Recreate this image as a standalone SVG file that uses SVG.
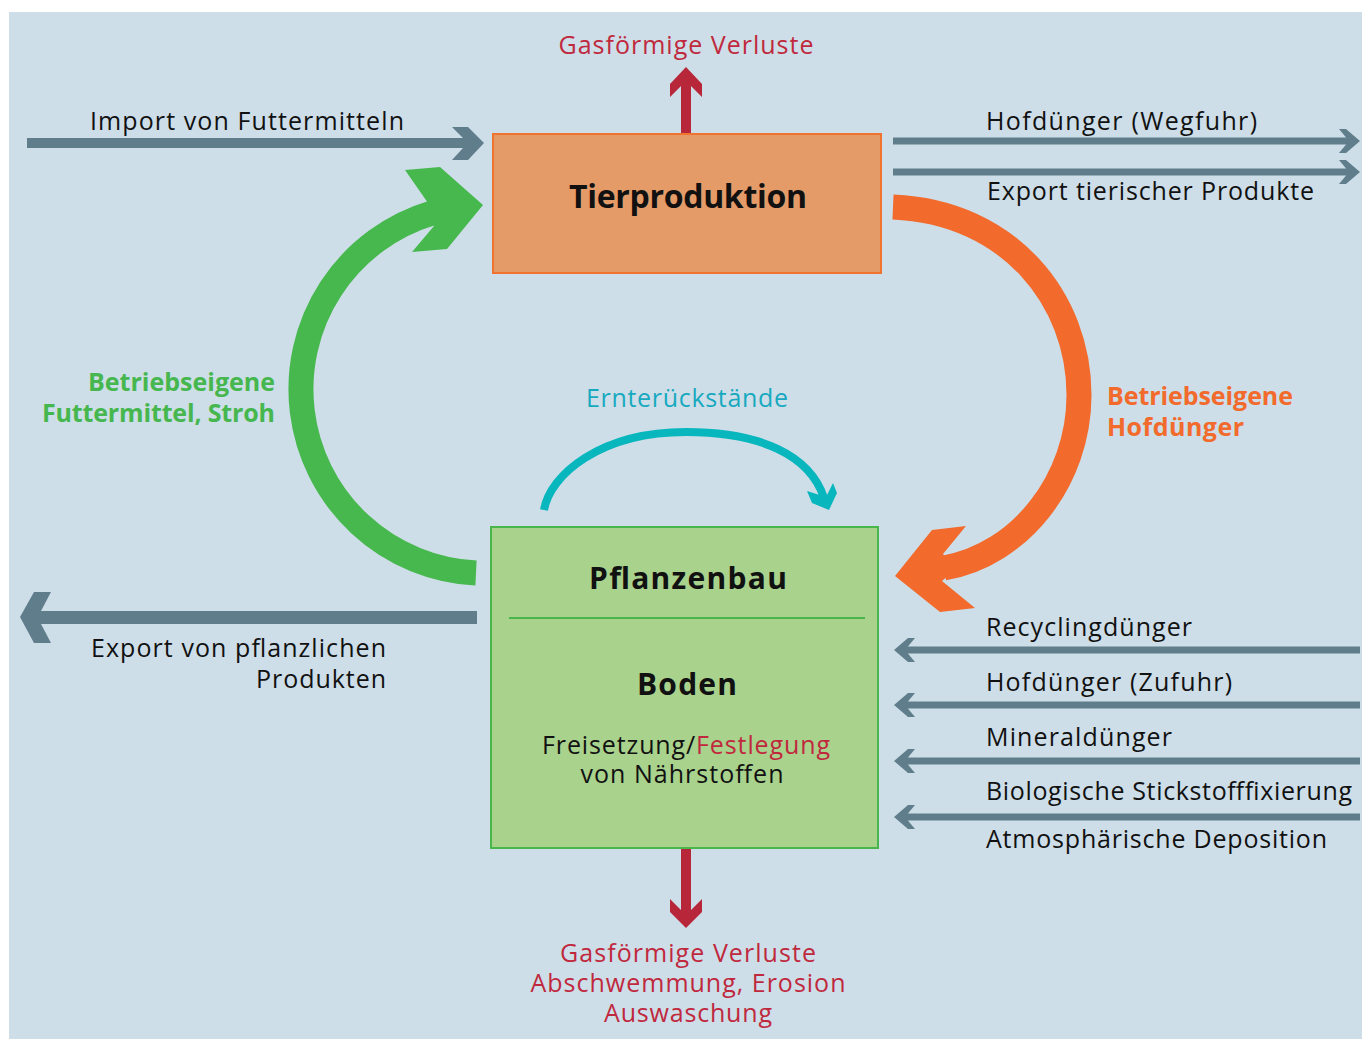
<svg xmlns="http://www.w3.org/2000/svg" width="1362" height="1039" viewBox="0 0 1362 1039">
<style>
.t{font-family:"Open Sans","Noto Sans","Liberation Sans",sans-serif;font-size:25px;fill:#111}
.b{font-weight:bold}
.red{fill:#c0293d}
.grey{fill:#607d8b}
</style>
<defs>
<path id="hr" d="M-21,-12 L-14,-12 L0,0 L-14,12 L-21,12 L-11,0 Z" fill="#607d8b"/>
</defs>
<rect x="9" y="12" width="1353" height="1027" fill="#cddee8"/>

<g id="connectors">
  <!-- import -->
  <polygon class="grey" points="27,138 463,138 452,127 468,127 484,143 468,160 452,160 463,148 27,148"/>
  <!-- outgoing right -->
  <rect class="grey" x="893" y="137.5" width="460" height="7"/>
  <use href="#hr" x="1360" y="141"/>
  <rect class="grey" x="893" y="168.5" width="460" height="7"/>
  <use href="#hr" x="1360" y="172"/>
  <!-- incoming right -->
  <rect class="grey" x="900" y="646.5" width="460" height="7"/>
  <use href="#hr" transform="translate(894,650) scale(-1,1)"/>
  <rect class="grey" x="900" y="701.5" width="460" height="7"/>
  <use href="#hr" transform="translate(894,705) scale(-1,1)"/>
  <rect class="grey" x="900" y="757.5" width="460" height="7"/>
  <use href="#hr" transform="translate(894,761) scale(-1,1)"/>
  <rect class="grey" x="900" y="813.5" width="460" height="7"/>
  <use href="#hr" transform="translate(894,817) scale(-1,1)"/>
  <!-- export left -->
  <polygon class="grey" points="20,617 34,592 51,592 41,611 477,611 477,624 41,624 51,643 34,643"/>
  <!-- red arrows -->
  <polygon fill="#b8263a" points="686,67 702,84 702,97 691,86 691,134 681,134 681,86 670,97 670,84"/>
  <polygon fill="#b8263a" points="681,848 691,848 691,910 702,899 702,912 686,928 670,912 670,899 681,910"/>
  <!-- green -->
  <path d="M476,573 A184,184 0 0 1 432,213" fill="none" stroke="#47b84e" stroke-width="25"/>
  <polygon fill="#47b84e" points="483,205 447,249 412,252 434,226 428,203 405,170 440,167"/>
  <!-- orange -->
  <path d="M893,207 C1010,212 1079,300 1079,395 C1079,480 1020,555 944,568" fill="none" stroke="#f26a2c" stroke-width="25"/>
  <polygon fill="#f26a2c" points="895,576 932,530 966,526 943,554 955,570 942,581 975,608 940,612"/>
  <!-- cyan -->
  <path d="M544,510 C550,475 600,432 686,432 C760,432 810,455 824,498" fill="none" stroke="#08b6bd" stroke-width="8"/>
  <polygon fill="#08b6bd" points="807,491 812,503 829,510 837,493 833,483 826,497"/>
</g>

<g id="tierproduktion">
  <rect x="493" y="134" width="388" height="139" fill="#e59b68" stroke="#f07330" stroke-width="2"/>
  <text class="t b" x="688" y="208" text-anchor="middle" style="font-size:32px" textLength="238">Tierproduktion</text>
</g>

<g id="pflanzenbau">
  <rect x="491" y="527" width="387" height="321" fill="#a9d28d" stroke="#49b64c" stroke-width="2"/>
  <line x1="509" y1="618" x2="865" y2="618" stroke="#49b64c" stroke-width="2"/>
  <text class="t b" x="688" y="589" text-anchor="middle" style="font-size:30px" textLength="198">Pflanzenbau</text>
  <text class="t b" x="687" y="695" text-anchor="middle" style="font-size:30px" textLength="100">Boden</text>
  <text class="t" x="542" y="754" textLength="288">Freisetzung/<tspan class="red">Festlegung</tspan></text>
  <text class="t" x="682" y="783" text-anchor="middle" textLength="203">von Nährstoffen</text>
</g>

<g id="labels">
  <text class="t red" x="686" y="54" text-anchor="middle" textLength="255">Gasförmige Verluste</text>
  <text class="t" x="90" y="130" textLength="314">Import von Futtermitteln</text>
  <text class="t" x="986" y="130" textLength="271">Hofdünger (Wegfuhr)</text>
  <text class="t" x="987" y="200" textLength="327">Export tierischer Produkte</text>
  <text class="t b" x="275" y="391" text-anchor="end" style="fill:#46b74e" textLength="187">Betriebseigene</text>
  <text class="t b" x="275" y="422" text-anchor="end" style="fill:#46b74e" textLength="233">Futtermittel, Stroh</text>
  <text class="t" x="687" y="407" text-anchor="middle" style="fill:#17a9bf" textLength="202">Ernterückstände</text>
  <text class="t b" x="1107" y="405" style="fill:#f26a2c" textLength="186">Betriebseigene</text>
  <text class="t b" x="1107" y="436" style="fill:#f26a2c" textLength="137">Hofdünger</text>
  <text class="t" x="91" y="657" textLength="295">Export von pflanzlichen</text>
  <text class="t" x="386" y="688" text-anchor="end" textLength="130">Produkten</text>
  <text class="t" x="986" y="636" textLength="206">Recyclingdünger</text>
  <text class="t" x="986" y="691" textLength="246">Hofdünger (Zufuhr)</text>
  <text class="t" x="986" y="746" textLength="186">Mineraldünger</text>
  <text class="t" x="986" y="800" textLength="366">Biologische Stickstofffixierung</text>
  <text class="t" x="986" y="848" textLength="341">Atmosphärische Deposition</text>
  <text class="t red" x="688" y="962" text-anchor="middle" textLength="256">Gasförmige Verluste</text>
  <text class="t red" x="688" y="992" text-anchor="middle" textLength="315">Abschwemmung, Erosion</text>
  <text class="t red" x="688" y="1022" text-anchor="middle" textLength="168">Auswaschung</text>
</g>
</svg>
